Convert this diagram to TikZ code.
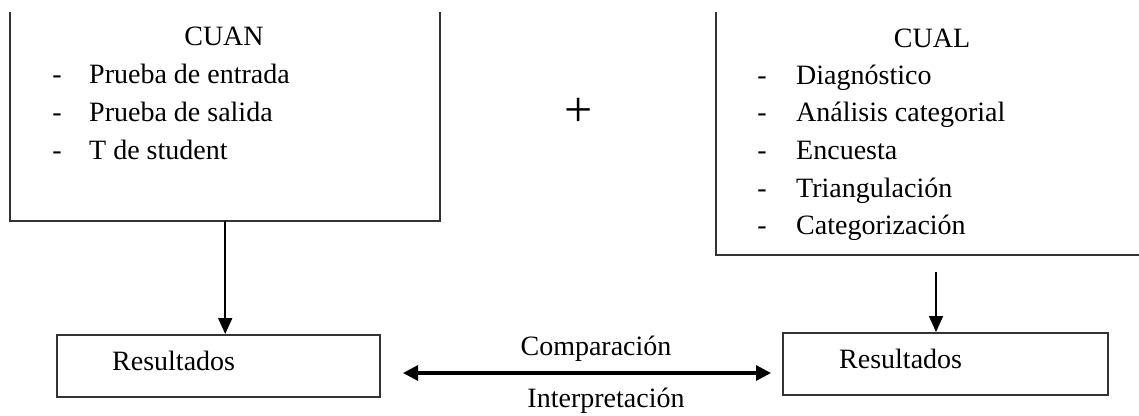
\documentclass[tikz,border=0pt]{standalone}
\usepackage{fontspec}
\setmainfont{Liberation Serif}
\usetikzlibrary{arrows.meta}
\begin{document}
\begin{tikzpicture}[x=1pt,y=-1pt,
  txt/.style={inner sep=0pt,font=\fontsize{28}{32}\selectfont},
  frame/.style={draw=none,inner sep=0pt},
  edge/.style={line width=1.9pt,draw=black!80},
  boxr/.style={draw=black!80,line width=1.9pt,inner sep=0pt},
  arr/.style={line width=1.7pt,-{Triangle[width=14pt,length=16pt]}},
  dbl/.style={line width=3.2pt,{Triangle[width=15pt,length=15pt]}-{Triangle[width=15pt,length=15pt]}}]
\useasboundingbox (0,0) rectangle (1139,415);
\clip (0,0) rectangle (1139,415);
% top left box (open top)
\node[frame,minimum width=430pt,minimum height=209pt,anchor=north west] (cuan) at (10,12) {};
\draw[edge] (cuan.north west) -- (cuan.south west) -- (cuan.south east) -- (cuan.north east);
\node[txt,anchor=base] (cuant) at (224,45) {CUAN};
\node[txt,anchor=base] (d1) at (57,83) {-};
\node[txt,anchor=base west] (l1) at (89,83) {Prueba de entrada};
\node[txt,anchor=base] (d2) at (57,121) {-};
\node[txt,anchor=base west] (l2) at (89,121) {Prueba de salida};
\node[txt,anchor=base] (d3) at (57,159) {-};
\node[txt,anchor=base west] (l3) at (89,159) {T de student};
% plus
\node[inner sep=0pt,font=\fontsize{50}{50}\selectfont] (plus) at (579,112) {+};
% top right box (open top, cut at right)
\node[frame,minimum width=450pt,minimum height=243pt,anchor=north west] (cual) at (716,12) {};
\draw[edge] (cual.north west) -- (cual.south west) -- (cual.south east);
\node[txt,anchor=base] (cualt) at (932,47) {CUAL};
\node[txt,anchor=base] (e1) at (762,84) {-};
\node[txt,anchor=base west] (r1) at (796,84) {Diagnóstico};
\node[txt,anchor=base] (e2) at (762,121) {-};
\node[txt,anchor=base west] (r2) at (796,121) {Análisis categorial};
\node[txt,anchor=base] (e3) at (762,159) {-};
\node[txt,anchor=base west] (r3) at (796,159) {Encuesta};
\node[txt,anchor=base] (e4) at (762,197) {-};
\node[txt,anchor=base west] (r4) at (796,197) {Triangulación};
\node[txt,anchor=base] (e5) at (762,234) {-};
\node[txt,anchor=base west] (r5) at (796,234) {Categorización};
% results boxes
\node[boxr,minimum width=323pt,minimum height=62pt,anchor=north west] (res1) at (56,334) {};
\node[txt,anchor=base west] (res1t) at (112,370) {Resultados};
\node[boxr,minimum width=325pt,minimum height=62pt,anchor=north west] (res2) at (782,332) {};
\node[txt,anchor=base west] (res2t) at (839,368) {Resultados};
% arrows
\draw[arr] (cuan.south) -- (cuan.south |- res1.north);
\coordinate (a2) at (936,272);
\draw[arr] (a2) -- (a2 |- res2.north);
\coordinate (dl) at (403,373);
\coordinate (dr) at (771,373);
\draw[dbl] (dl) -- (dr);
\node[txt,anchor=base] (comp) at (596,355) {Comparación};
\node[txt,anchor=base] (interp) at (606,407) {Interpretación};
\end{tikzpicture}
\end{document}
